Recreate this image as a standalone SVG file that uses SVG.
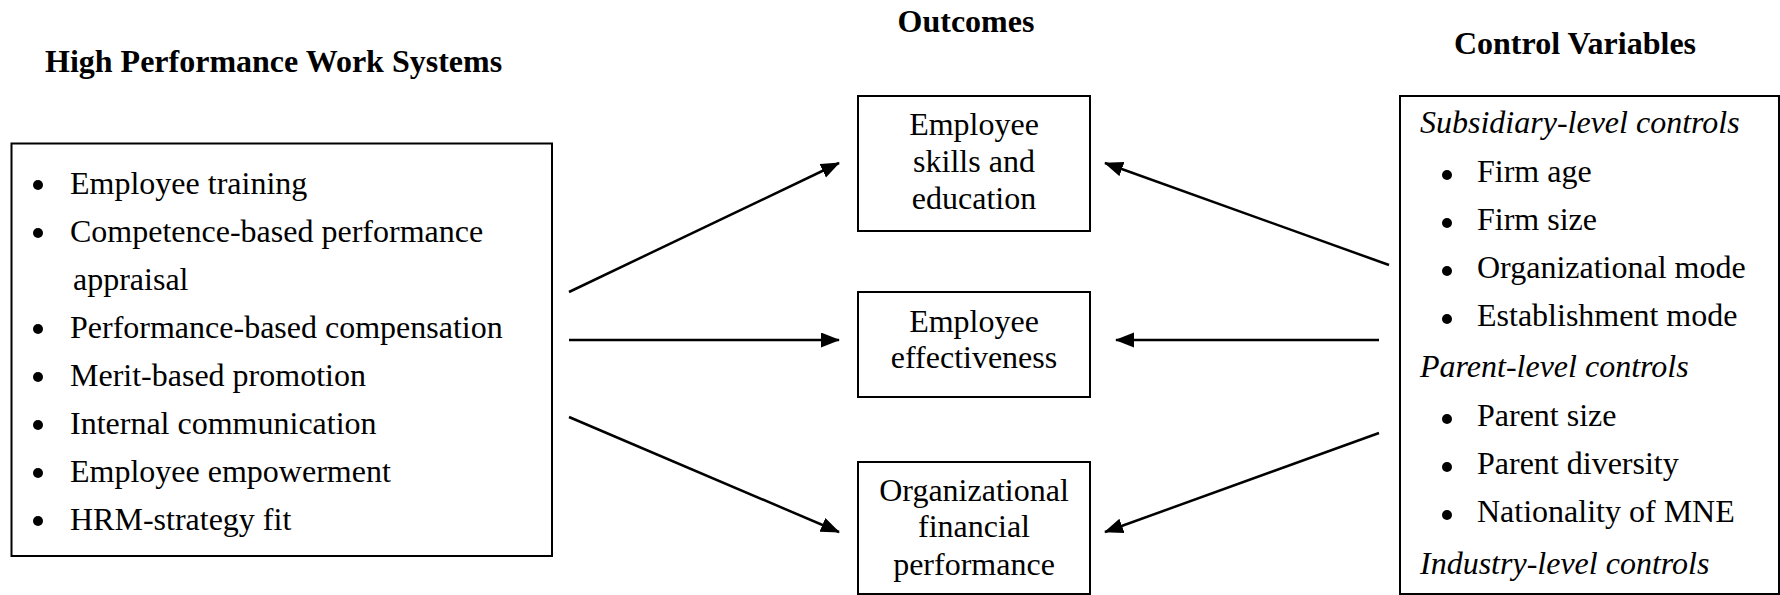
<svg xmlns="http://www.w3.org/2000/svg" width="1780" height="595" viewBox="0 0 1780 595">
<style>
text{font-family:"Liberation Serif","Times New Roman",serif;font-size:32px;fill:#000}
.title{font-weight:bold}
.it{font-style:italic}
.c{text-anchor:middle}
.box{fill:#fff;stroke:#000;stroke-width:2}
.bul{fill:#000}
.conn{stroke:#000;stroke-width:2.5;fill:none;marker-end:url(#ah)}
</style>
<defs>
<marker id="ah" markerUnits="userSpaceOnUse" markerWidth="20" markerHeight="16" refX="18" refY="7.5" orient="auto">
<path d="M0,0 L19,7.5 L0,15 Z" fill="#000"/>
</marker>
</defs>
<rect width="1780" height="595" fill="#fff"/>

<g id="titles">
<text class="title" x="45" y="72">High Performance Work Systems</text>
<text class="title c" x="966" y="32">Outcomes</text>
<text class="title c" x="1575" y="54">Control Variables</text>
</g>

<g id="hpws">
<rect class="box" x="11.5" y="143.5" width="540.5" height="412.5"/>
<circle class="bul" cx="38" cy="185" r="5"/><text x="70" y="194">Employee training</text>
<circle class="bul" cx="38" cy="233" r="5"/><text x="70" y="242">Competence-based performance</text>
<text x="73" y="290">appraisal</text>
<circle class="bul" cx="38" cy="329" r="5"/><text x="70" y="338">Performance-based compensation</text>
<circle class="bul" cx="38" cy="377" r="5"/><text x="70" y="386">Merit-based promotion</text>
<circle class="bul" cx="38" cy="425" r="5"/><text x="70" y="434">Internal communication</text>
<circle class="bul" cx="38" cy="473" r="5"/><text x="70" y="482">Employee empowerment</text>
<circle class="bul" cx="38" cy="521" r="5"/><text x="70" y="530">HRM-strategy fit</text>
</g>

<g id="skills">
<rect class="box" x="858" y="96" width="232" height="135"/>
<text class="c" x="974" y="135">Employee</text>
<text class="c" x="974" y="172">skills and</text>
<text class="c" x="974" y="209">education</text>
</g>

<g id="effectiveness">
<rect class="box" x="858" y="292" width="232" height="105"/>
<text class="c" x="974" y="332">Employee</text>
<text class="c" x="974" y="368">effectiveness</text>
</g>

<g id="financial">
<rect class="box" x="858" y="462" width="232" height="132"/>
<text class="c" x="974" y="501">Organizational</text>
<text class="c" x="974" y="537">financial</text>
<text class="c" x="974" y="575">performance</text>
</g>

<g id="controls">
<rect class="box" x="1400" y="96" width="379" height="498"/>
<text class="it" x="1420" y="133">Subsidiary-level controls</text>
<circle class="bul" cx="1447" cy="175" r="5"/><text x="1477" y="182">Firm age</text>
<circle class="bul" cx="1447" cy="223" r="5"/><text x="1477" y="230">Firm size</text>
<circle class="bul" cx="1447" cy="271" r="5"/><text x="1477" y="278">Organizational mode</text>
<circle class="bul" cx="1447" cy="319" r="5"/><text x="1477" y="326">Establishment mode</text>
<text class="it" x="1420" y="377">Parent-level controls</text>
<circle class="bul" cx="1447" cy="419" r="5"/><text x="1477" y="426">Parent size</text>
<circle class="bul" cx="1447" cy="467" r="5"/><text x="1477" y="474">Parent diversity</text>
<circle class="bul" cx="1447" cy="515" r="5"/><text x="1477" y="522">Nationality of MNE</text>
<text class="it" x="1420" y="574">Industry-level controls</text>
</g>

<g id="connectors">
<line class="conn" x1="569" y1="292" x2="839" y2="163"/>
<line class="conn" x1="569" y1="340" x2="839" y2="340"/>
<line class="conn" x1="569" y1="417" x2="839" y2="532"/>
<line class="conn" x1="1389" y1="265" x2="1105" y2="163"/>
<line class="conn" x1="1379" y1="340" x2="1116" y2="340"/>
<line class="conn" x1="1379" y1="433" x2="1105" y2="532"/>
</g>
</svg>
